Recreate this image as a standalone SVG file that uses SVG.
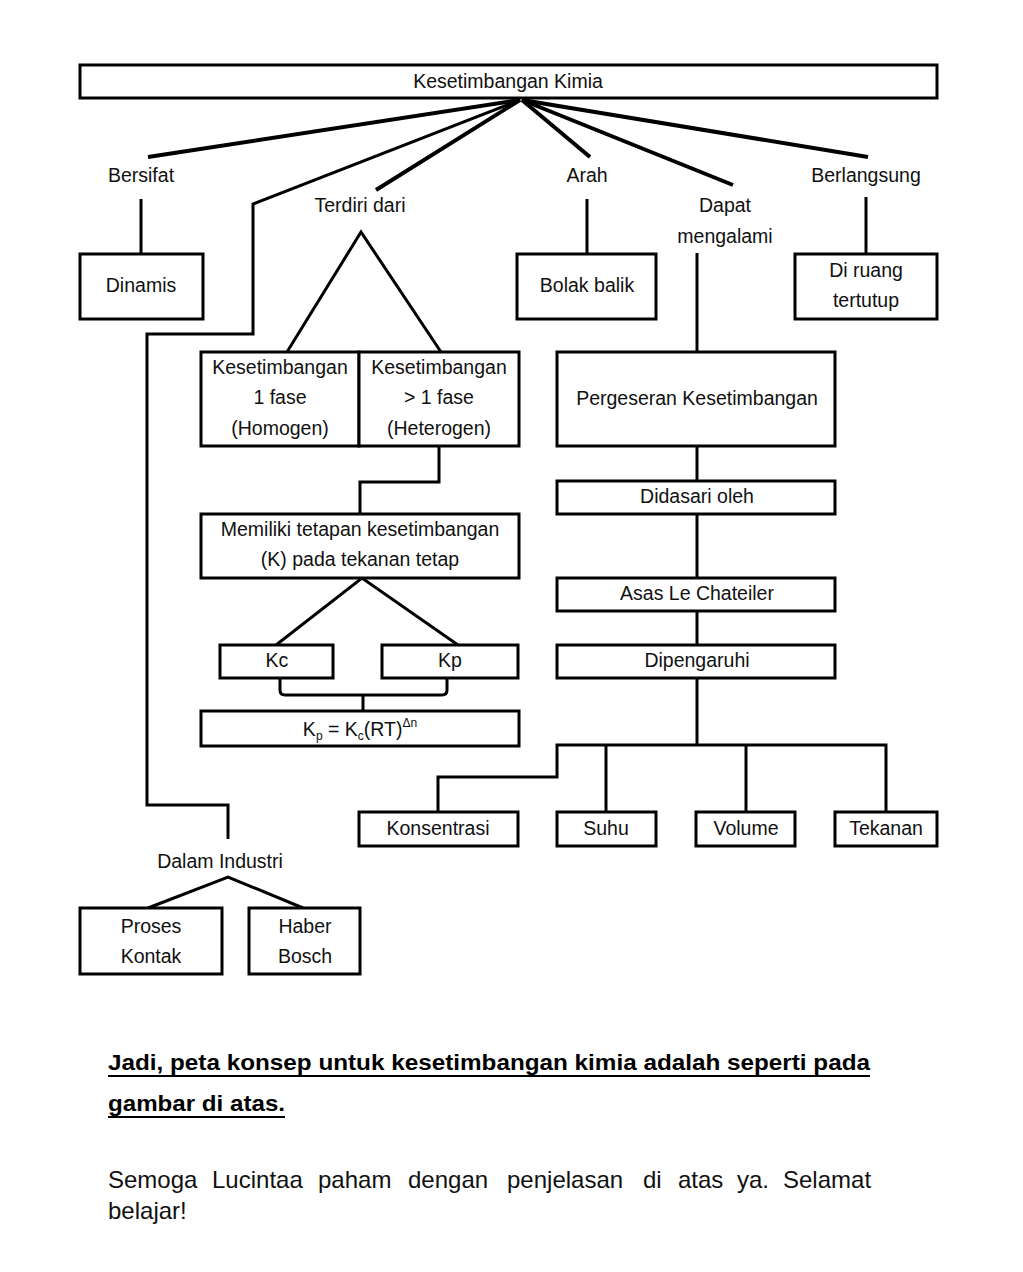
<svg xmlns="http://www.w3.org/2000/svg" width="1023" height="1272" viewBox="0 0 1023 1272">
<style>
.box{fill:#fff;stroke:#000;stroke-width:3}
.ln{fill:none;stroke:#000;stroke-width:3;stroke-linejoin:miter}
.fan{fill:none;stroke:#000;stroke-width:4;stroke-linecap:butt}
text{font-family:"Liberation Sans",Arial,sans-serif;font-size:19.5px;fill:#111;text-anchor:middle}
.b{font-weight:bold;font-size:22px;text-anchor:start;fill:#000}
.p{font-size:24px;text-anchor:start}
</style>
<rect width="1023" height="1272" fill="#fff"/>
<g id="connectors">
<line class="fan" x1="520" y1="100" x2="148" y2="157"/>
<polyline class="ln" points="520,100 253,204 253,334 147,334 147,805 228,805 228,839"/>
<line class="fan" x1="520" y1="100" x2="376" y2="190"/>
<line class="fan" x1="522" y1="100" x2="590" y2="157"/>
<line class="fan" x1="522" y1="100" x2="733" y2="185"/>
<line class="fan" x1="522" y1="100" x2="868" y2="157"/>
<line class="ln" x1="141" y1="199" x2="141" y2="254"/>
<line class="ln" x1="587" y1="199" x2="587" y2="254"/>
<line class="ln" x1="866" y1="197" x2="866" y2="254"/>
<line class="ln" x1="697" y1="253" x2="697" y2="352"/>
<polyline class="ln" points="287,352 361,232 441,352"/>
<polyline class="ln" points="439,446 439,482 360,482 360,514"/>
<polyline class="ln" points="276,645 362,578 458,645"/>
<path class="ln" d="M280,678 V690 Q280,695 285,695 H442 Q447,695 447,690 V678 M363,695 V711"/>
<line class="ln" x1="697" y1="446" x2="697" y2="481"/>
<line class="ln" x1="697" y1="514" x2="697" y2="578"/>
<line class="ln" x1="697" y1="611" x2="697" y2="645"/>
<line class="ln" x1="697" y1="678" x2="697" y2="745"/>
<polyline class="ln" points="438,812 438,777 557,777 557,745 886,745 886,812"/>
<line class="ln" x1="606" y1="745" x2="606" y2="812"/>
<line class="ln" x1="746" y1="745" x2="746" y2="812"/>
<polyline class="ln" points="148,908 228,877 303,908"/>
</g>
<g id="title"><rect class="box" x="80" y="65" width="857" height="33"/><text x="508" y="88">Kesetimbangan Kimia</text></g>
<g id="lbl-bersifat"><text x="141" y="182">Bersifat</text></g>
<g id="lbl-terdiri"><text x="360" y="212">Terdiri dari</text></g>
<g id="lbl-arah"><text x="587" y="182">Arah</text></g>
<g id="lbl-dapat"><text x="725" y="212">Dapat</text><text x="725" y="243">mengalami</text></g>
<g id="lbl-berlangsung"><text x="866" y="182">Berlangsung</text></g>
<g id="dinamis"><rect class="box" x="80" y="254" width="123" height="65"/><text x="141" y="292">Dinamis</text></g>
<g id="bolak"><rect class="box" x="517" y="254" width="139" height="65"/><text x="587" y="292">Bolak balik</text></g>
<g id="ruang"><rect class="box" x="795" y="254" width="142" height="65"/><text x="866" y="277">Di ruang</text><text x="866" y="307">tertutup</text></g>
<g id="homogen"><rect class="box" x="201" y="352" width="158" height="94"/><text x="280" y="374">Kesetimbangan</text><text x="280" y="404">1 fase</text><text x="280" y="435">(Homogen)</text></g>
<g id="heterogen"><rect class="box" x="359" y="352" width="160" height="94"/><text x="439" y="374">Kesetimbangan</text><text x="439" y="404">&gt; 1 fase</text><text x="439" y="435">(Heterogen)</text></g>
<g id="memiliki"><rect class="box" x="201" y="514" width="318" height="64"/><text x="360" y="536">Memiliki tetapan kesetimbangan</text><text x="360" y="566">(K) pada tekanan tetap</text></g>
<g id="kc"><rect class="box" x="220" y="645" width="113" height="33"/><text x="277" y="667">Kc</text></g>
<g id="kp"><rect class="box" x="382" y="645" width="136" height="33"/><text x="450" y="667">Kp</text></g>
<g id="rumus"><rect class="box" x="201" y="711" width="318" height="35"/><text x="360" y="736">K<tspan font-size="12" dy="4">p</tspan><tspan dy="-4"> = K</tspan><tspan font-size="12" dy="4">c</tspan><tspan dy="-4">(RT)</tspan><tspan font-size="12" dy="-9">Δn</tspan></text></g>
<g id="pergeseran"><rect class="box" x="557" y="352" width="278" height="94"/><text x="697" y="405">Pergeseran Kesetimbangan</text></g>
<g id="didasari"><rect class="box" x="557" y="481" width="278" height="33"/><text x="697" y="503">Didasari oleh</text></g>
<g id="asas"><rect class="box" x="557" y="578" width="278" height="33"/><text x="697" y="600">Asas Le Chateiler</text></g>
<g id="dipengaruhi"><rect class="box" x="557" y="645" width="278" height="33"/><text x="697" y="667">Dipengaruhi</text></g>
<g id="konsentrasi"><rect class="box" x="359" y="812" width="159" height="34"/><text x="438" y="835">Konsentrasi</text></g>
<g id="suhu"><rect class="box" x="557" y="812" width="99" height="34"/><text x="606" y="835">Suhu</text></g>
<g id="volume"><rect class="box" x="696" y="812" width="99" height="34"/><text x="746" y="835">Volume</text></g>
<g id="tekanan"><rect class="box" x="835" y="812" width="102" height="34"/><text x="886" y="835">Tekanan</text></g>
<g id="lbl-industri"><text x="220" y="868">Dalam Industri</text></g>
<g id="kontak"><rect class="box" x="80" y="908" width="142" height="66"/><text x="151" y="933">Proses</text><text x="151" y="963">Kontak</text></g>
<g id="haber"><rect class="box" x="249" y="908" width="111" height="66"/><text x="305" y="933">Haber</text><text x="305" y="963">Bosch</text></g>
<g id="penutup">
<text class="b" x="108" y="1070" textLength="762" lengthAdjust="spacingAndGlyphs">Jadi, peta konsep untuk kesetimbangan kimia adalah seperti pada</text>
<line x1="108" y1="1076" x2="870" y2="1076" stroke="#000" stroke-width="2"/>
<text class="b" x="108" y="1111" textLength="177" lengthAdjust="spacingAndGlyphs">gambar di atas.</text>
<line x1="108" y1="1117" x2="285" y2="1117" stroke="#000" stroke-width="2"/>
<text class="p" y="1188"><tspan x="108">Semoga</tspan><tspan x="212">Lucintaa</tspan><tspan x="318">paham</tspan><tspan x="408">dengan</tspan><tspan x="507">penjelasan</tspan><tspan x="643">di</tspan><tspan x="678">atas</tspan><tspan x="737">ya.</tspan><tspan x="783">Selamat</tspan></text>
<text class="p" x="108" y="1219">belajar!</text>
</g>
</svg>
